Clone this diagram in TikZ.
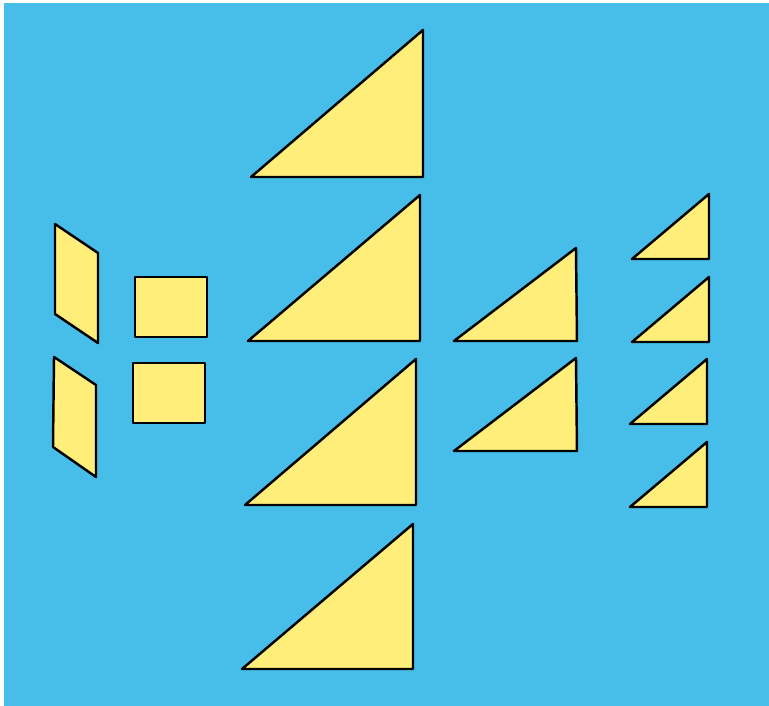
\documentclass[tikz,border=0pt]{standalone}
\usepackage{tikz}
\definecolor{sky}{HTML}{46BEE9}
\definecolor{sand}{HTML}{FFEE7A}
\tikzset{
    piece/.style={draw=black, fill=sand, line width=1.4pt, line join=round},
}

\begin{document}
\begin{tikzpicture}[x=0.02cm, y=-0.02cm]
        \useasboundingbox (0,0) rectangle (769,706);
        \fill[white] (0,0) rectangle (769,706);
        \fill[sky] (4,3) rectangle (769,706);
        % parallelograms
        \draw[piece] (55,224) -- (98,253) -- (98,343) -- (55,314) -- cycle;
        \draw[piece] (54,357) -- (96,385) -- (96,477) -- (53,447) -- cycle;
        % squares
        \draw[piece] (135,277) rectangle (207,337);
        \draw[piece] (133,363) rectangle (205,423);
        % large triangles
        \draw[piece] (251,177) -- (423,30) -- (423,177) -- cycle;
        \draw[piece] (248,341) -- (420,195) -- (420,341) -- cycle;
        \draw[piece] (245,505) -- (416,359) -- (416,505) -- cycle;
        \draw[piece] (242,669) -- (413,524) -- (413,669) -- cycle;
        % medium triangles
        \draw[piece] (454,341) -- (576,248) -- (577,341) -- cycle;
        \draw[piece] (454,451) -- (576,358) -- (577,451) -- cycle;
        % small triangles
        \foreach \x/\y in {632/259, 632/342, 630/424, 630/507}
            \draw[piece] (\x,\y) -- (\x+77,\y-65) -- (\x+77,\y) -- cycle;
    \end{tikzpicture}
\end{document}
